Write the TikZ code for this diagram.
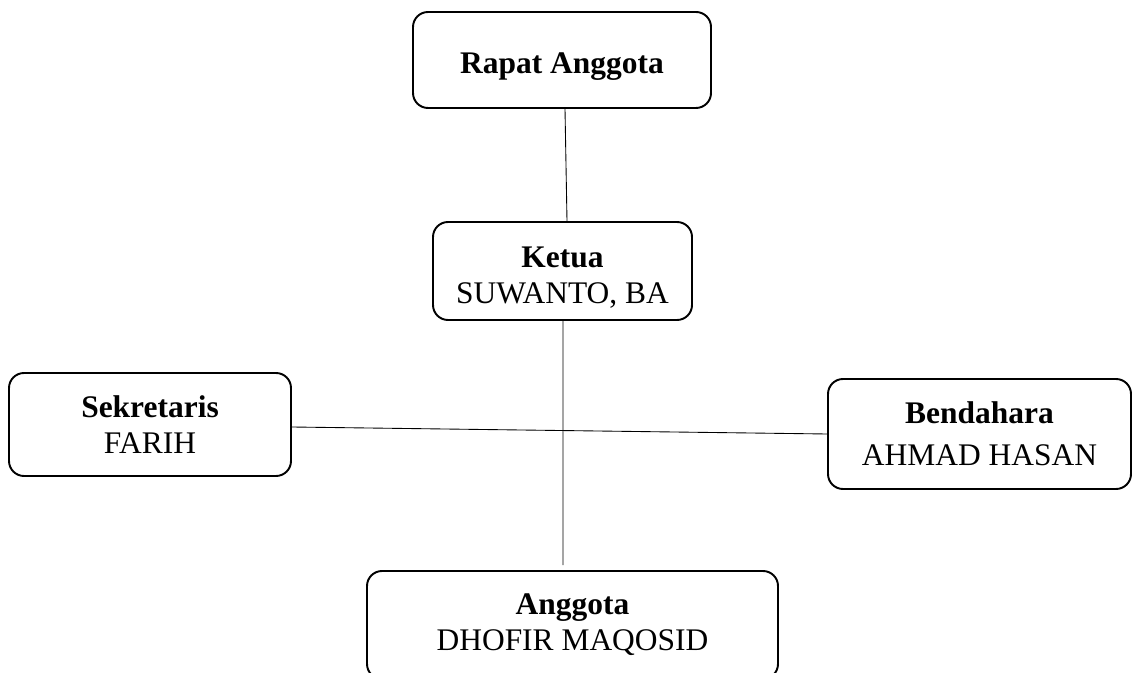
\documentclass[tikz,border=0pt]{standalone}
\usepackage{fontspec}
\setmainfont{Liberation Serif}
\usetikzlibrary{positioning}
\newcommand{\toplift}[1]{\rule{0pt}{#1}}

\begin{document}
\begin{tikzpicture}
  \tikzstyle{unit}=[draw=black,line width=1.1pt,rounded corners=0.3cm,align=center,
    inner sep=0pt,font=\fontsize{17.9}{20.5}\selectfont]
  \tikzstyle{link}=[black,line width=0.5pt]
  \useasboundingbox (0,0) rectangle (22.8,-13.46);

  % -- Rapat Anggota --
  \node[unit,minimum width=5.96cm,minimum height=1.92cm] (rapat) at (11.24,-1.2)
    {\toplift{0.68cm}\textbf{Rapat Anggota}};

  % -- Ketua --
  \node[unit,minimum width=5.18cm,minimum height=1.96cm] (ketua) at (11.25,-5.42)
    {\toplift{0.66cm}\textbf{Ketua}\\ SUWANTO, BA};

  % -- Sekretaris / Bendahara --
  \node[unit,minimum width=5.64cm,minimum height=2.06cm] (sekretaris) at (3.0,-8.49)
    {\textbf{Sekretaris}\\ FARIH};
  \node[unit,minimum width=6.06cm,minimum height=2.2cm] (bendahara) at (19.59,-8.68)
    {\textbf{Bendahara}\\[0.12cm] AHMAD HASAN};

  % -- Anggota (cut at the page edge) --
  \node[unit,minimum width=8.22cm,minimum height=2.16cm] (anggota) at (11.45,-12.5)
    {\textbf{Anggota}\\ DHOFIR MAQOSID};
  \coordinate (anggotatop) at (11.26,-11.3);

  % -- Links --
  \draw[link] ([xshift=0.06cm]rapat.south) -- ([xshift=0.09cm]ketua.north);
  \draw[link] ([xshift=0.01cm]ketua.south) -- (anggotatop);
  \draw[link] ([yshift=-0.05cm]sekretaris.east) -- (bendahara.west);
\end{tikzpicture}
\end{document}
